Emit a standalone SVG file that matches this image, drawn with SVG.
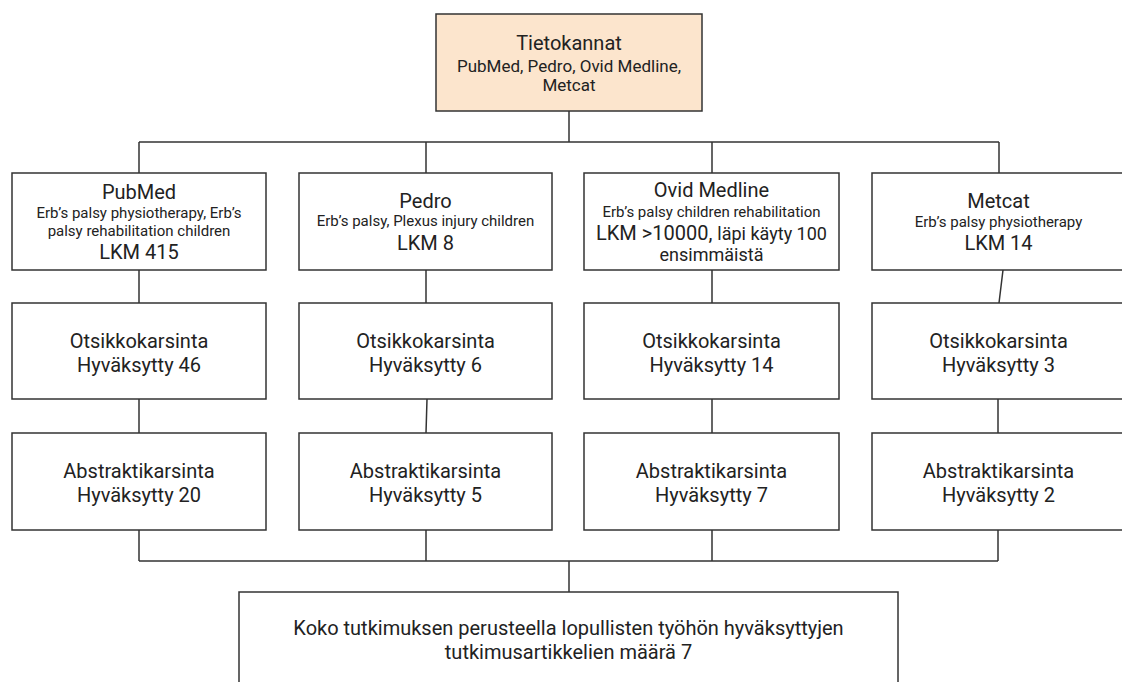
<svg xmlns="http://www.w3.org/2000/svg" width="1122" height="682" viewBox="0 0 1122 682">
<style>
.box{fill:#ffffff;stroke:#333333;stroke-width:1.5}
.top{fill:#fce5cd;stroke:#333333;stroke-width:1.5}
.ln{fill:none;stroke:#333333;stroke-width:1.5}
text{font-family:Roboto,"Liberation Sans",sans-serif;fill:#222222;text-anchor:middle}
.t20{font-size:20px}
.t18{font-size:18px}
.t16{font-size:17px}
.t15{font-size:15px}
</style>
<rect width="1122" height="682" fill="#ffffff"/>
<g id="connectors">
<path class="ln" d="M569 111V142M139 142H999M139 142V173M426 142V173M712 142V173M999 142V173"/>
<path class="ln" d="M139 270V303M426 270V303M712 270V303M1003 270L999 303"/>
<path class="ln" d="M139 399V433M427 399L426 433M712 399V433M998 399V433"/>
<path class="ln" d="M139 530V561M426 530V561M712 530V561M998 530V561M139 561H998M569 561V592"/>
</g>
<g id="tietokannat">
<rect class="top" x="436" y="14" width="266" height="97"/>
<text class="t20" x="569" y="50">Tietokannat</text>
<text class="t16" x="569" y="72">PubMed, Pedro, Ovid Medline,</text>
<text class="t16" x="569" y="91">Metcat</text>
</g>
<g id="pubmed">
<rect class="box" x="12" y="173" width="254" height="97"/>
<text class="t20" x="139" y="199">PubMed</text>
<text class="t15" x="139" y="218">Erb’s palsy physiotherapy, Erb’s</text>
<text class="t15" x="139" y="236">palsy rehabilitation children</text>
<text class="t20" x="139" y="259">LKM 415</text>
</g>
<g id="pedro">
<rect class="box" x="299" y="173" width="253" height="97"/>
<text class="t20" x="425.5" y="208">Pedro</text>
<text class="t15" x="425.5" y="226">Erb’s palsy, Plexus injury children</text>
<text class="t20" x="425.5" y="250">LKM 8</text>
</g>
<g id="ovid">
<rect class="box" x="584" y="173" width="255" height="97"/>
<text class="t20" x="711.5" y="197">Ovid Medline</text>
<text class="t15" x="711.5" y="217">Erb’s palsy children rehabilitation</text>
<text x="711.5" y="240"><tspan class="t20">LKM &gt;10000, </tspan><tspan class="t18">läpi käyty 100</tspan></text>
<text class="t18" x="711.5" y="261">ensimmäistä</text>
</g>
<g id="metcat">
<rect class="box" x="872" y="173" width="253" height="97"/>
<text class="t20" x="998.5" y="208">Metcat</text>
<text class="t15" x="998.5" y="227">Erb’s palsy physiotherapy</text>
<text class="t20" x="998.5" y="250">LKM 14</text>
</g>
<g id="otsikko-pubmed">
<rect class="box" x="12" y="303" width="254" height="96"/>
<text class="t20" x="139" y="348">Otsikkokarsinta</text>
<text class="t20" x="139" y="372">Hyväksytty 46</text>
</g>
<g id="otsikko-pedro">
<rect class="box" x="299" y="303" width="253" height="96"/>
<text class="t20" x="425.5" y="348">Otsikkokarsinta</text>
<text class="t20" x="425.5" y="372">Hyväksytty 6</text>
</g>
<g id="otsikko-ovid">
<rect class="box" x="584" y="303" width="255" height="96"/>
<text class="t20" x="711.5" y="348">Otsikkokarsinta</text>
<text class="t20" x="711.5" y="372">Hyväksytty 14</text>
</g>
<g id="otsikko-metcat">
<rect class="box" x="872" y="303" width="253" height="96"/>
<text class="t20" x="998.5" y="348">Otsikkokarsinta</text>
<text class="t20" x="998.5" y="372">Hyväksytty 3</text>
</g>
<g id="abstrakti-pubmed">
<rect class="box" x="12" y="433" width="254" height="97"/>
<text class="t20" x="139" y="478">Abstraktikarsinta</text>
<text class="t20" x="139" y="502">Hyväksytty 20</text>
</g>
<g id="abstrakti-pedro">
<rect class="box" x="299" y="433" width="253" height="97"/>
<text class="t20" x="425.5" y="478">Abstraktikarsinta</text>
<text class="t20" x="425.5" y="502">Hyväksytty 5</text>
</g>
<g id="abstrakti-ovid">
<rect class="box" x="584" y="433" width="255" height="97"/>
<text class="t20" x="711.5" y="478">Abstraktikarsinta</text>
<text class="t20" x="711.5" y="502">Hyväksytty 7</text>
</g>
<g id="abstrakti-metcat">
<rect class="box" x="872" y="433" width="253" height="97"/>
<text class="t20" x="998.5" y="478">Abstraktikarsinta</text>
<text class="t20" x="998.5" y="502">Hyväksytty 2</text>
</g>
<g id="lopullinen">
<rect class="box" x="239" y="592" width="659" height="100"/>
<text class="t20" x="568.5" y="635">Koko tutkimuksen perusteella lopullisten työhön hyväksyttyjen</text>
<text class="t20" x="568.5" y="659">tutkimusartikkelien määrä 7</text>
</g>
</svg>
